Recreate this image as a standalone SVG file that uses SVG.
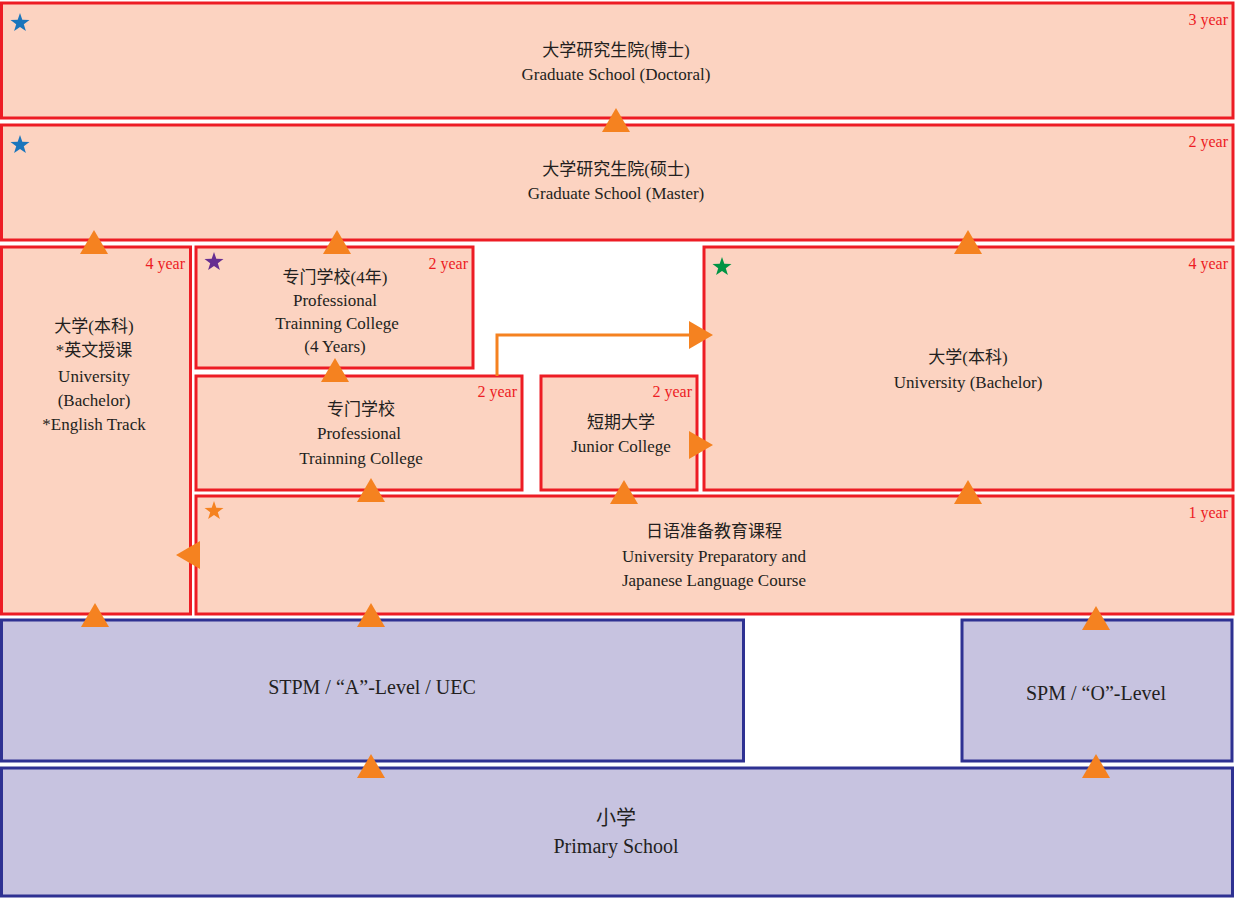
<svg xmlns="http://www.w3.org/2000/svg" width="1235" height="899" viewBox="0 0 1235 899">
<style>
.r{fill:#fcd3c1;stroke:#ed1c24;stroke-width:3}
.b{fill:#c7c3e0;stroke:#2e3192;stroke-width:3}
text{font-family:"Liberation Serif","Noto Sans CJK SC",serif;font-size:17px;fill:#231f20;text-anchor:middle}
.y{fill:#ed1c24;text-anchor:end;font-size:16px}
.big{font-size:20px}
.t{fill:#f58220}
</style>
<defs>
<path id="up" d="M-14,12 L0,-12 L14,12Z" class="t"/>
<path id="st" d="M0,-10 L2.3,-3.2 L9.5,-3.1 L3.8,1.2 L5.9,8.1 L0,4 L-5.9,8.1 L-3.8,1.2 L-9.5,-3.1 L-2.3,-3.2Z"/>
</defs>
<g id="doctoral"><rect class="r" x="1.5" y="3" width="1231.5" height="115"/><use href="#st" x="20" y="23" fill="#1a75bc"/><text class="y" x="1228" y="25">3 year</text><text x="616" y="56">大学研究生院(博士)</text><text x="616" y="80">Graduate School (Doctoral)</text></g>
<g id="master"><rect class="r" x="1.5" y="125" width="1231.5" height="115"/><use href="#st" x="20" y="145" fill="#1a75bc"/><text class="y" x="1228" y="147">2 year</text><text x="616" y="175">大学研究生院(硕士)</text><text x="616" y="199">Graduate School (Master)</text></g>
<g id="univ-en"><rect class="r" x="1.5" y="247" width="189" height="367"/><text class="y" x="185" y="269">4 year</text><text x="94" y="332">大学(本科)</text><text x="94" y="356">*英文授课</text><text x="94" y="382">University</text><text x="94" y="406">(Bachelor)</text><text x="94" y="430">*English Track</text></g>
<g id="prof4"><rect class="r" x="196" y="247" width="277" height="121"/><use href="#st" x="214" y="262" fill="#662d91"/><text class="y" x="468" y="269">2 year</text><text x="335" y="283">专门学校(4年)</text><text x="335" y="306">Professional</text><text x="337" y="329">Trainning  College</text><text x="335" y="352">(4 Years)</text></g>
<g id="prof"><rect class="r" x="196" y="376" width="326" height="114"/><text class="y" x="517" y="397">2 year</text><text x="361" y="415">专门学校</text><text x="359" y="439">Professional</text><text x="361" y="464">Trainning College</text></g>
<g id="junior"><rect class="r" x="541" y="376" width="156" height="114"/><text class="y" x="692" y="397">2 year</text><text x="621" y="428">短期大学</text><text x="621" y="452">Junior College</text></g>
<g id="univ"><rect class="r" x="704" y="247" width="529" height="243"/><use href="#st" x="722" y="267" fill="#009444"/><text class="y" x="1228" y="269">4 year</text><text x="968" y="363">大学(本科)</text><text x="968" y="388">University (Bachelor)</text></g>
<g id="prep"><rect class="r" x="196" y="496" width="1037" height="118"/><use href="#st" x="214" y="511" fill="#f58220"/><text class="y" x="1228" y="518">1 year</text><text x="714" y="537">日语准备教育课程</text><text x="714" y="562">University Preparatory and</text><text x="714" y="586">Japanese Language Course</text></g>
<g id="stpm"><rect class="b" x="1.5" y="620" width="742" height="141"/><text class="big" x="372" y="694">STPM / “A”-Level / UEC</text></g>
<g id="spm"><rect class="b" x="962" y="620" width="270" height="141"/><text class="big" x="1096" y="700">SPM / “O”-Level</text></g>
<g id="primary"><rect class="b" x="1.5" y="768" width="1231" height="128"/><text class="big" x="616" y="825">小学</text><text class="big" x="616" y="853">Primary School</text></g>
<g id="connectors">
<polyline points="497,376 497,335 692,335" fill="none" stroke="#f58220" stroke-width="3"/>
<use href="#up" x="616" y="120"/>
<use href="#up" x="94" y="242"/>
<use href="#up" x="337" y="242"/>
<use href="#up" x="968" y="242"/>
<use href="#up" x="335" y="370"/>
<use href="#up" x="371" y="490"/>
<use href="#up" x="624" y="492"/>
<use href="#up" x="968" y="492"/>
<use href="#up" x="95" y="615"/>
<use href="#up" x="371" y="615"/>
<use href="#up" x="1096" y="618"/>
<use href="#up" x="371" y="766"/>
<use href="#up" x="1096" y="766"/>
<path class="t" d="M200,541 L176,555 L200,569Z"/>
<path class="t" d="M689,321 L713,335 L689,349Z"/>
<path class="t" d="M689,431 L713,445 L689,459Z"/>
</g>
</svg>
